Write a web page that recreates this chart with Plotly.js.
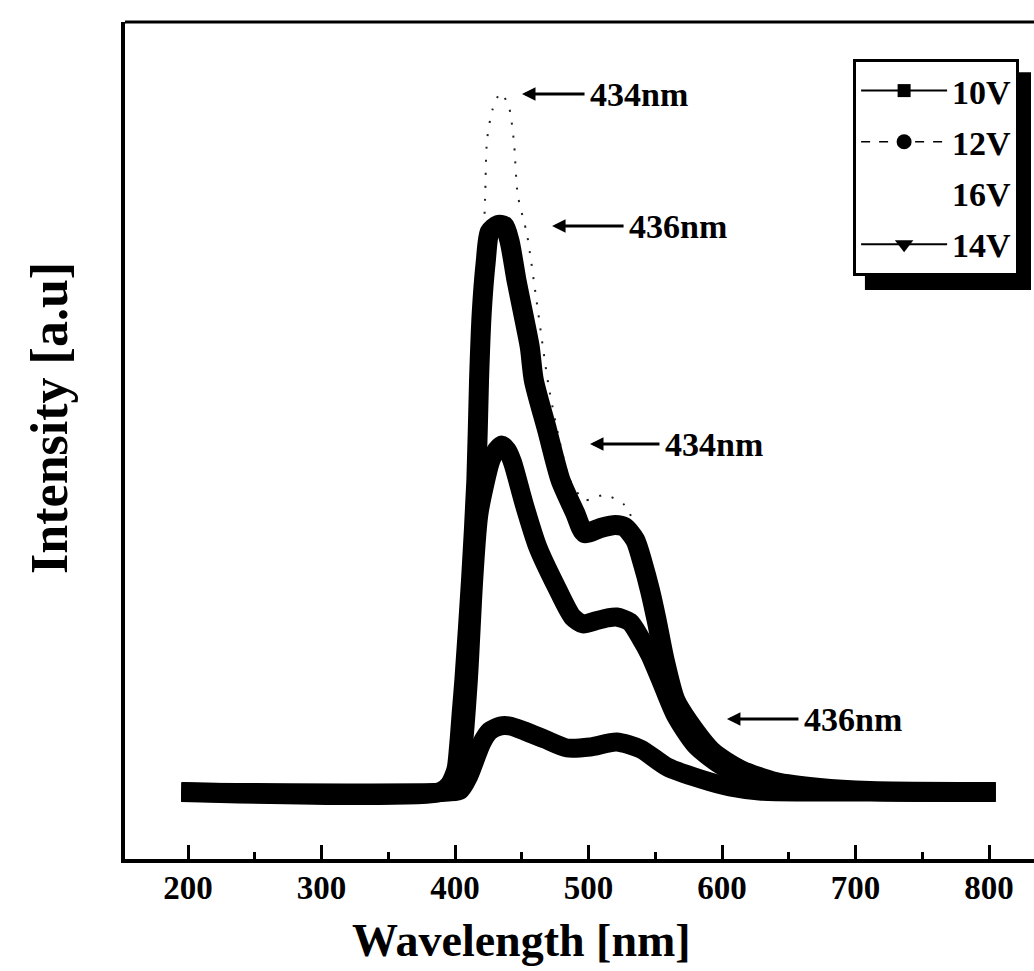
<!DOCTYPE html>
<html>
<head>
<meta charset="utf-8">
<script src="https://cdn.plot.ly/plotly-3.0.1.min.js"></script>
<style>html,body{margin:0;padding:0;background:#fff;overflow:hidden}#chart{width:1034px;height:971px}</style>
</head>
<body>
<div id="chart"></div>
<script>
// Wavelength (nm) / intensity (a.u.)
const wl10 = [195, 395, 404, 410, 415, 420, 426, 434, 441, 452, 467, 484, 501, 521, 539, 559, 584, 606, 628, 660, 805];
const int10 = [0, 0, 2, 15, 32, 49, 61, 66, 66, 61, 53, 44, 45, 50, 43, 25, 13, 5, 1, 0, 0];

const wl12 = [195, 390, 400, 405, 410, 414, 418, 427, 431, 435, 439, 443, 452, 462, 476, 488, 496, 505, 514, 521, 531, 539, 546, 554, 565, 580, 599, 621, 651, 688, 733, 805];
const int12 = [0, 0, 7, 32, 112, 212, 279, 332, 342, 347, 342, 330, 287, 245, 205, 175, 168, 171, 174, 175, 170, 154, 137, 112, 77, 47, 27, 14, 6, 2, 0, 0];

const wl14 = [195, 389, 396, 401, 403, 405, 407, 412, 416, 418, 420, 423, 426, 432, 437, 441, 446, 451, 456, 459, 469, 479, 490, 497, 509, 520, 527, 535, 541, 546, 551, 557, 565, 575, 593, 614, 640, 673, 711, 805];
const int14 = [0, 0, 7, 22, 45, 79, 112, 212, 312, 412, 479, 530, 560, 567, 566, 550, 512, 479, 445, 412, 362, 312, 279, 259, 264, 267, 265, 252, 227, 202, 172, 132, 92, 70, 40, 22, 10, 4, 1, 0];

const wl16 = [195, 392, 405, 413, 419, 422.5, 424, 428, 434, 440, 444, 447, 454, 461, 470, 479, 486, 497, 512, 527, 539, 548, 557, 568, 583, 602, 628, 673, 733, 805];
const int16 = [0, 2, 92, 292, 462, 592, 652, 682, 699, 687, 652, 597, 557, 492, 407, 347, 312, 292, 297, 287, 252, 217, 152, 102, 67, 40, 20, 6, 1, 0];

const seriesNames = ['10V', '12V', '16V', '14V'];
const xTicks = [200, 300, 400, 500, 600, 700, 800];
const peakLabels = ['434nm', '436nm', '434nm', '436nm'];

const serif = 'Liberation Serif, Times New Roman, serif';

const traces = [
  {x: wl16, y: int16, mode: 'lines', line: {color: '#222', width: 2, dash: '2px,11px', shape: 'spline', smoothing: 0.7}, showlegend: false, hoverinfo: 'skip'},
  {x: wl10, y: int10, mode: 'lines', line: {color: '#000', width: 19, shape: 'spline', smoothing: 0.7}, showlegend: false},
  {x: wl12, y: int12, mode: 'lines', line: {color: '#000', width: 19, shape: 'spline', smoothing: 0.7}, showlegend: false},
  {x: wl14, y: int14, mode: 'lines', line: {color: '#000', width: 20, shape: 'spline', smoothing: 0.7}, showlegend: false},
  // legend entries
  {x: [null], y: [null], name: seriesNames[0], legendgroup: 'a', mode: 'lines+markers', line: {color: '#000', width: 2}, marker: {symbol: 'square', size: 13, color: '#000'}},
  {x: [null], y: [null], name: seriesNames[1], legendgroup: 'b', mode: 'lines+markers', line: {color: '#000', width: 1.5, dash: 'dash'}, marker: {symbol: 'circle', size: 15, color: '#000'}},
  {x: [null], y: [null], name: seriesNames[2], legendgroup: 'c', mode: 'lines', line: {color: 'rgba(0,0,0,0)', width: 1}},
  {x: [null], y: [null], name: seriesNames[3], legendgroup: 'd', mode: 'lines+markers', line: {color: '#000', width: 2}, marker: {symbol: 'triangle-down', size: 16, color: '#000'}}
];

function arrowNote(text, x, y, ax) {
  return {text: text, x: x, y: y, xref: 'x', yref: 'y', ax: ax, ay: 0, showarrow: true,
    arrowhead: 2, arrowsize: 0.9, arrowwidth: 3, arrowcolor: '#000', borderpad: 5,
    font: {family: serif, size: 34, color: '#000', weight: 'bold'}};
}

const layout = {
  width: 1034, height: 971,
  margin: {l: 125, r: 0, t: 22, b: 112},
  paper_bgcolor: '#fff', plot_bgcolor: '#fff',
  font: {family: serif, color: '#000'},
  xaxis: {
    range: [152.8, 833.7], tickvals: xTicks, ticktext: xTicks.map(String),
    ticks: 'inside', ticklen: 14, tickwidth: 3, tickcolor: '#000',
    minor: {ticks: 'inside', ticklen: 7, tickwidth: 3, tickcolor: '#000', dtick: 50, tick0: 0},
    showline: true, linewidth: 4, linecolor: '#000', showgrid: false, zeroline: false,
    tickfont: {family: serif, size: 33, color: '#000', weight: 'bold'}, ticklabelstandoff: -4
  },
  yaxis: {
    range: [-67, 770], showticklabels: false, ticks: '',
    showline: true, linewidth: 4, linecolor: '#000', showgrid: false, zeroline: false
  },
  showlegend: true,
  legend: {
    x: 0.801, y: 0.9558, xanchor: 'left', yanchor: 'top',
    bgcolor: '#fff', bordercolor: '#000', borderwidth: 3,
    font: {family: serif, size: 34, color: '#000', weight: 'bold'},
    itemwidth: 86, tracegroupgap: 4, traceorder: 'grouped'
  },
  shapes: [
    {type: 'line', xref: 'paper', yref: 'paper', x0: 0, x1: 1, y0: 1, y1: 1, line: {color: '#000', width: 3}},
    {type: 'rect', xref: 'paper', yref: 'paper', x0: 0.814, x1: 0.9967, y0: 0.6798, y1: 0.94, fillcolor: '#000', line: {width: 0}, layer: 'above'}
  ],
  annotations: [
    arrowNote(peakLabels[0], 450.2, 698, 117),
    arrowNote(peakLabels[1], 472.7, 566, 126),
    arrowNote(peakLabels[2], 501.1, 348, 124),
    arrowNote(peakLabels[3], 603.7, 73, 126),
    {text: 'Wavelength [nm]', xref: 'paper', yref: 'paper', x: 0.4367, y: -0.0968, xanchor: 'center', yanchor: 'middle', showarrow: false,
      font: {family: serif, size: 46, color: '#000', weight: 'bold'}},
    {text: 'Intensity [a.u]', xref: 'paper', yref: 'paper', x: -0.0825, y: 0.527, xanchor: 'center', yanchor: 'middle', showarrow: false, textangle: -90,
      font: {family: serif, size: 52, color: '#000', weight: 'bold'}}
  ]
};

Plotly.newPlot('chart', traces, layout, {displayModeBar: false, staticPlot: true});
</script>
</body>
</html>
